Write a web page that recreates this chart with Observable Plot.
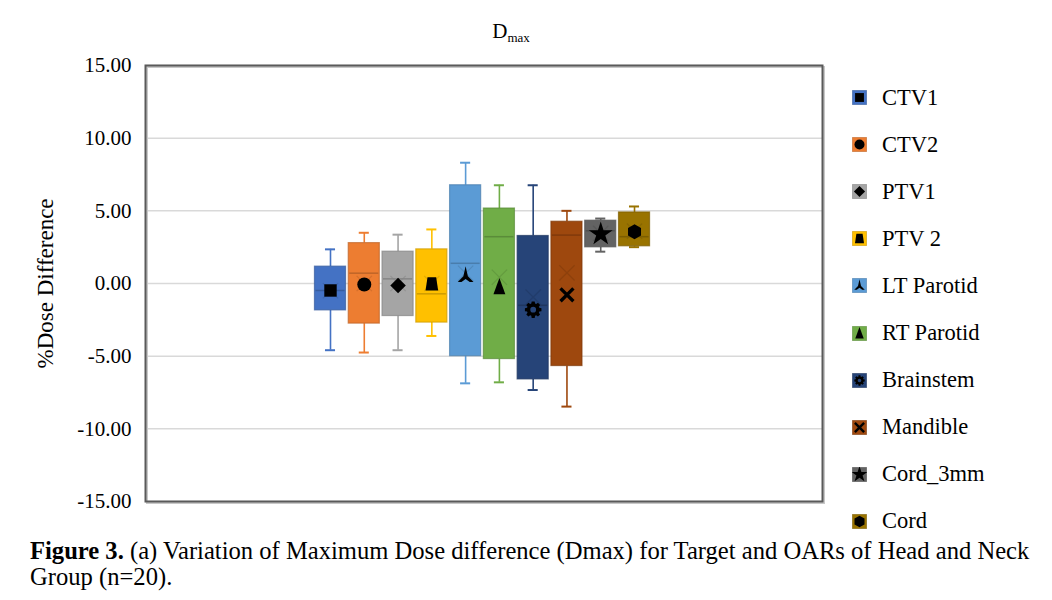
<!DOCTYPE html>
<html><head><meta charset="utf-8">
<script src="https://cdn.jsdelivr.net/npm/d3@7"></script>
<script src="https://cdn.jsdelivr.net/npm/@observablehq/plot@0.6"></script>
<style>
body{margin:0;background:#fff;font-family:"Liberation Serif","Times New Roman",serif;color:#000;}
#wrap{position:relative;width:1052px;height:600px;overflow:hidden;}
#chart{position:absolute;left:0;top:0;}
#title{position:absolute;top:19px;left:0;width:1022px;text-align:center;font-size:21px;}
#title sub{font-size:13px;vertical-align:-4px;}
#legend{position:absolute;left:852px;top:74px;}
.item{height:47.1px;display:flex;align-items:center;font-size:22.5px;}
.item svg{margin-right:15px;}
#caption{position:absolute;left:30px;top:538px;width:1022px;font-size:24.6px;line-height:26px;white-space:nowrap;}
</style></head>
<body>
<div id="wrap">
  <div id="chart"></div>
  <div id="title">D<sub>max</sub></div>
  <div id="legend"></div>
  <div id="caption"><b>Figure 3.</b> (a) Variation of Maximum Dose difference (Dmax) for Target and OARs of Head and Neck<br>Group (n=20).</div>
</div>
<script>
// ---- data ----
const series  = ["CTV1","CTV2","PTV1","PTV 2","LT Parotid","RT Parotid","Brainstem","Mandible","Cord_3mm","Cord"];
const colors  = ["#4472C4","#ED7D31","#A5A5A5","#FFC000","#5B9BD5","#70AD47","#264478","#9E480E","#636363","#997300"];
const minVals = [-4.59,-4.75,-4.59,-3.61,-6.87,-6.80,-7.33,-8.47,2.19,2.50];
const q1Vals  = [-1.85,-2.76,-2.24,-2.69,-5.00,-5.20,-6.60,-5.68,2.49,2.56];
const medVals = [-0.48,0.71,0.32,-0.71,1.39,3.22,-1.50,3.33,3.63,3.22];
const q3Vals  = [1.16,2.78,2.19,2.35,6.76,5.16,3.27,4.25,4.32,4.89];
const maxVals = [2.35,3.49,3.36,3.72,8.31,6.76,6.76,5.00,4.47,5.30];
const meanVals = [-0.50,0.00,0.00,0.00,0.70,0.43,-0.94,0.73,3.45,3.60];
const markVals = [-0.48,-0.07,-0.14,-0.02,0.55,-0.25,-1.80,-0.78,3.40,3.56];
const yTicks = [-15,-10,-5,0,5,10,15];

// ---- custom marker shapes ----
const K = s => Math.sqrt(s/Math.PI);
const trapezoid = {draw(c,s){const k=K(s);c.moveTo(-0.62*k,-0.95*k);c.lineTo(0.62*k,-0.95*k);c.lineTo(0.9*k,0.95*k);c.lineTo(-0.9*k,0.95*k);c.closePath();}};
const tallTri = {draw(c,s){const k=K(s);c.moveTo(0,-1.3*k);c.lineTo(0.85*k,1.0*k);c.lineTo(-0.85*k,1.0*k);c.closePath();}};
const wye3 = {draw(c,s){const k=K(s);c.moveTo(0,-1.25*k);c.lineTo(0.3*k,0.1*k);c.lineTo(1.05*k,0.85*k);c.lineTo(0.55*k,0.85*k);c.lineTo(0,0.45*k);c.lineTo(-0.55*k,0.85*k);c.lineTo(-1.05*k,0.85*k);c.lineTo(-0.3*k,0.1*k);c.closePath();}};
const gear = {draw(c,s){const k=K(s);const n=8,ro=1.05*k,ri=0.8*k,rh=0.36*k;let first=true;
  for(let i=0;i<n;i++){const b=i*2*Math.PI/n;
    for(const [r,a] of [[ri,b-0.3],[ro,b-0.18],[ro,b+0.18],[ri,b+0.3]]){const x=r*Math.cos(a),y=r*Math.sin(a);if(first){c.moveTo(x,y);first=false;}else c.lineTo(x,y);}}
  c.closePath();c.moveTo(rh,0);c.arc(0,0,rh,0,2*Math.PI,true);c.closePath();}};
const bigX = {draw(c,s){const k=K(s);const L=1.3*k,w=0.24*k;
  for(const t of [Math.PI/4,-Math.PI/4]){const dx=Math.cos(t),dy=Math.sin(t),nx=-dy,ny=dx;
    c.moveTo(L*dx+w*nx,L*dy+w*ny);c.lineTo(L*dx-w*nx,L*dy-w*ny);c.lineTo(-L*dx-w*nx,-L*dy-w*ny);c.lineTo(-L*dx+w*nx,-L*dy+w*ny);c.closePath();}}};
const hexagon = {draw(c,s){const rx=K(s),ry=rx*Math.sqrt(4/3),hy=ry/2;c.moveTo(0,ry);c.lineTo(rx,hy);c.lineTo(rx,-hy);c.lineTo(0,-ry);c.lineTo(-rx,-hy);c.lineTo(-rx,hy);c.closePath();}};
const symbols = [d3.symbolSquare,d3.symbolCircle,d3.symbolDiamond2,trapezoid,wye3,tallTri,gear,bigX,d3.symbolStar,hexagon];
const symR = [7,7,7,7,7.5,7,8,7,7.5,6.5];

const data = series.map((name,i)=>({name,color:colors[i],dark:d3.color(colors[i]).darker(0.6).formatHex(),
  min:minVals[i],q1:q1Vals[i],median:medVals[i],q3:q3Vals[i],max:maxVals[i],mean:meanVals[i],mark:markVals[i],sym:symbols[i],r:symR[i]}));

const step = 33.78, pad = 0.08, c0 = 330;
const x0 = c0 - step*(pad + (1-pad)/2);
const plot = Plot.plot({
  width:1052, height:530,
  marginLeft:145, marginRight:230, marginTop:65, marginBottom:29,
  style:{fontFamily:'"Liberation Serif","Times New Roman",serif',fontSize:"21px",color:"#000",background:"#fff"},
  x:{type:"band",domain:series,range:[x0,x0+step*(series.length+pad)],padding:pad,round:false,axis:null},
  y:{domain:[-15,15],ticks:yTicks,tickFormat:d=>d.toFixed(2),label:"%Dose Difference"},
  color:{type:"identity"},
  marks:[
    Plot.gridY(yTicks,{stroke:"#d9d9d9",strokeOpacity:1,strokeWidth:1.5}),
    Plot.axisY(yTicks,{tickSize:0,tickPadding:14,tickFormat:d=>d.toFixed(2),fontSize:21,label:null}),
    Plot.axisY({label:"%Dose Difference",ticks:[],tickSize:0,fontSize:23,labelAnchor:"center",labelArrow:"none",labelOffset:109}),
    Plot.ruleX(data,{x:"name",y1:"min",y2:"q1",stroke:"color",strokeWidth:1.6}),
    Plot.ruleX(data,{x:"name",y1:"q3",y2:"max",stroke:"color",strokeWidth:1.6}),
    Plot.tickY(data,{x:"name",y:"min",stroke:"color",strokeWidth:2,insetLeft:10.5,insetRight:10.5}),
    Plot.tickY(data,{x:"name",y:"max",stroke:"color",strokeWidth:2,insetLeft:10.5,insetRight:10.5}),
    Plot.rectY(data,{x:"name",y1:"q1",y2:"q3",fill:"color",stroke:"dark",strokeWidth:1.2,strokeOpacity:0.7}),
    Plot.tickY(data,{x:"name",y:"median",stroke:"dark",strokeWidth:1.5,insetLeft:1,insetRight:1}),
    Plot.dot(data,{x:"name",y:"mean",symbol:"times",r:7,stroke:"dark",strokeWidth:1.2,strokeOpacity:0.55}),
    ...data.map(d=>Plot.dot([d],{x:"name",y:"mark",symbol:d.sym,r:d.r,fill:"#000",stroke:"none"})),
    Plot.frame({stroke:"#c8c8c8",strokeWidth:2,dx:1.5,dy:1.5}),
    Plot.frame({stroke:"#5a5a5a",strokeWidth:2})
  ]
});
document.getElementById("chart").append(plot);

// legend
const leg = d3.select("#legend");
data.forEach((d,i)=>{
  const it = leg.append("div").attr("class","item");
  const sv = it.append("svg").attr("width",15).attr("height",15);
  sv.append("rect").attr("x",0.5).attr("y",0.5).attr("width",14).attr("height",14).attr("fill",d.color).attr("stroke",d.dark).attr("stroke-opacity",0.6);
  sv.append("path").attr("transform","translate(7.5,7.5)").attr("d",d3.symbol(d.sym,Math.PI*25)()).attr("fill","#000");
  it.append("span").text(d.name);
});
</script>
</body></html>
